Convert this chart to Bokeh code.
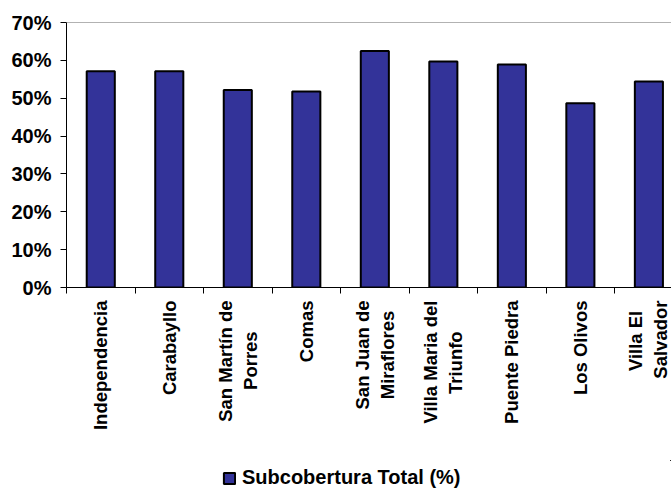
import math
from bokeh.plotting import figure
from bokeh.layouts import column
from bokeh.models import (FixedTicker, NumeralTickFormatter, Span, Legend,
                          LegendItem, ColumnDataSource, Range1d)
from bokeh.embed import file_html
from bokeh.resources import INLINE

# ---- data ----
districts = ["Independencia", "Carabayllo", "San Martín de\nPorres", "Comas",
             "San Juan de\nMiraflores", "Villa Maria del\nTriunfo",
             "Puente Piedra", "Los Olivos", "Villa El\nSalvador"]
subcobertura = [0.571, 0.571, 0.522, 0.518, 0.625, 0.597, 0.589, 0.487, 0.544]
y_ticks = [0.0, 0.1, 0.2, 0.3, 0.4, 0.5, 0.6, 0.7]
series_name = "Subcobertura Total (%)"

FONT = "Liberation Sans"
BAR_FILL = "#333399"

# approximate Arial-bold advance widths (em) to centre wrapped label lines
_W = {" ": .278, "S": .667, "a": .556, "n": .611, "M": .833, "r": .389,
      "t": .333, "í": .278, "d": .611, "e": .556, "P": .667, "o": .611,
      "s": .556, "J": .556, "u": .611, "i": .278, "f": .333, "l": .278,
      "V": .667, "T": .611, "E": .667, "v": .556}


def _centre_lines(label):
    lines = label.split("\n")
    if len(lines) == 1:
        return label
    widths = [sum(_W.get(ch, .556) for ch in ln) for ln in lines]
    wmax = max(widths)
    out = [ln + " " * int(round((wmax - w) / 2 / _W[" "])) for ln, w in zip(lines, widths)]
    return "\n".join(out)


centers = [i + 0.5 for i in range(len(districts))]
bounds = list(range(len(districts) + 1))
source = ColumnDataSource(dict(x=centers, top=subcobertura))

p = figure(width=671, height=460, output_backend="svg", toolbar_location=None,
           x_range=Range1d(0, 8.83), y_range=Range1d(0, 0.7),
           min_border_left=66, min_border_right=0, min_border_top=22,
           min_border_bottom=173)
p.outline_line_color = None
p.grid.visible = False
p.background_fill_color = "white"
p.border_fill_color = "white"

bars = p.vbar(x="x", top="top", bottom=0, width=0.41, source=source,
              fill_color=BAR_FILL, line_color="black", line_width=2)

# x axis
xa = p.xaxis[0]
xa.ticker = FixedTicker(ticks=centers, minor_ticks=bounds)
xa.major_label_overrides = {c: _centre_lines(d) for c, d in zip(centers, districts)}
xa.major_tick_line_color = None
xa.major_tick_out = 0
xa.major_tick_in = 0
xa.minor_tick_line_color = "black"
xa.minor_tick_out = 6
xa.minor_tick_in = 0
xa.major_label_orientation = math.pi / 2
xa.major_label_standoff = 7
xa.major_label_text_font = FONT
xa.major_label_text_font_style = "bold"
xa.major_label_text_font_size = "18.5px"
xa.major_label_text_color = "black"
xa.axis_line_color = "black"

# y axis
ya = p.yaxis[0]
ya.ticker = FixedTicker(ticks=y_ticks, minor_ticks=[])
ya.formatter = NumeralTickFormatter(format="0%")
ya.major_tick_out = 6
ya.major_tick_in = 0
ya.major_tick_line_color = "black"
ya.major_label_standoff = 9
ya.major_label_text_font = FONT
ya.major_label_text_font_style = "bold"
ya.major_label_text_font_size = "20px"
ya.major_label_text_color = "black"
ya.axis_line_color = "black"

# top border of plot area
p.add_layout(Span(location=0.7, dimension="width", line_color="#666666",
                  line_width=1))

# ---- legend strip (frame aligned with the chart's frame) ----
# its ranges lie away from the data, so the swatch renderer draws nothing here
lg = figure(width=671, height=29, output_backend="svg", toolbar_location=None,
            x_axis_location=None, y_axis_location=None,
            x_range=Range1d(-2, -1), y_range=Range1d(-2, -1),
            min_border=0, min_border_left=0, min_border_right=0,
            min_border_top=0, min_border_bottom=0)
lg.outline_line_color = None
lg.grid.visible = False
lg.background_fill_color = "white"
lg.border_fill_color = "white"
swatch = lg.vbar(x="x", top="top", bottom=0, width=0.41, source=source,
                 fill_color=BAR_FILL, line_color="black", line_width=2)
legend = Legend(items=[LegendItem(label=series_name, renderers=[swatch])],
                location=(156, 0), orientation="horizontal",
                border_line_color=None, background_fill_alpha=0,
                padding=0, margin=0, glyph_width=14, glyph_height=14,
                label_text_font=FONT, label_text_font_style="bold",
                label_text_font_size="20px", label_text_color="black",
                label_standoff=6, label_height=14)
lg.add_layout(legend)

layout = column(p, lg, spacing=0)
open("out.html", "w").write(file_html(layout, INLINE))
